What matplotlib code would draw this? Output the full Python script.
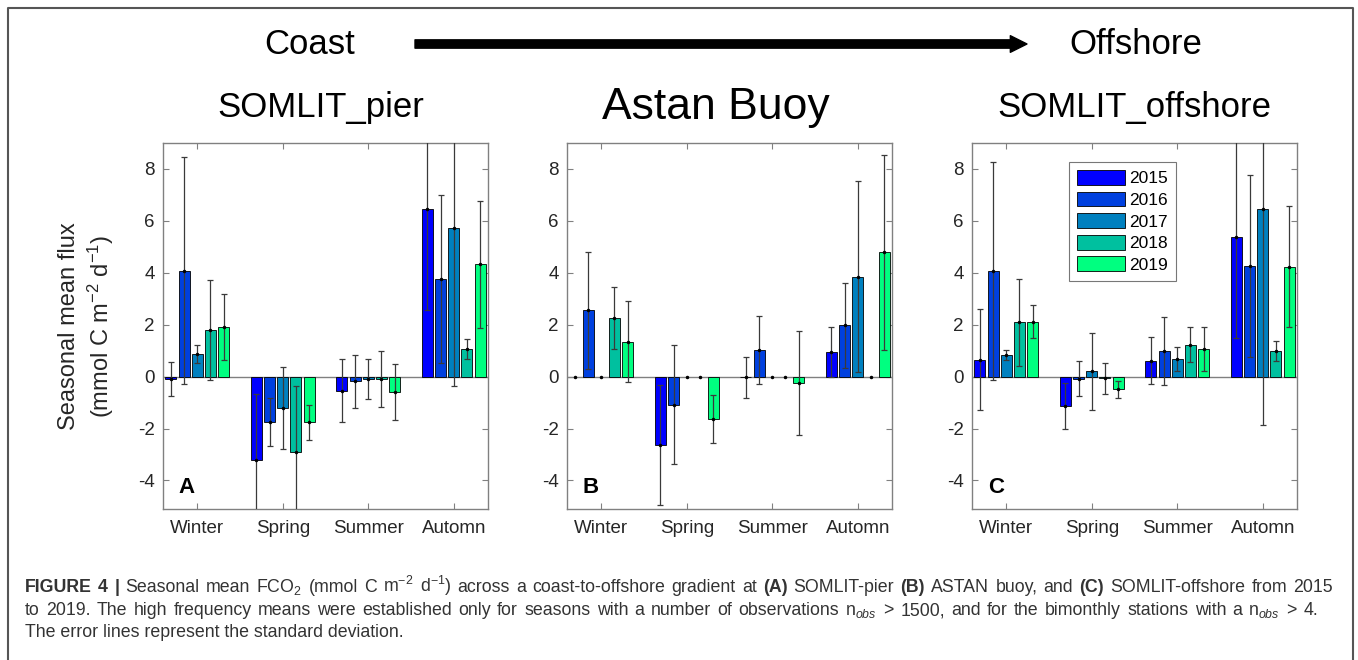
import numpy as np
import matplotlib
matplotlib.use("Agg")
import matplotlib.pyplot as plt
from matplotlib.patches import FancyArrowPatch, Rectangle
from matplotlib.lines import Line2D

plt.rcParams["font.family"] = ["Liberation Sans", "DejaVu Sans"]
plt.rcParams["mathtext.fontset"] = "custom"
plt.rcParams["mathtext.rm"] = "Liberation Sans"
plt.rcParams["mathtext.it"] = "Liberation Sans:italic"
plt.rcParams["mathtext.bf"] = "Liberation Sans:bold"
plt.rcParams["axes.unicode_minus"] = False

seasons = ["Winter", "Spring", "Summer", "Automn"]
years = ["2015", "2016", "2017", "2018", "2019"]
titles = ["SOMLIT_pier", "Astan Buoy", "SOMLIT_offshore"]
letters = ["A", "B", "C"]

# rows = seasons, columns = years (nan = no data, drawn as a dot at 0)
pier_mean = [[-0.10, 4.08, 0.87, 1.81, 1.90],
             [-3.21, -1.76, -1.22, -2.91, -1.76],
             [-0.54, -0.17, -0.10, -0.10, -0.60],
             [6.46, 3.76, 5.73, 1.06, 4.33]]
pier_std = [[0.65, 4.37, 0.34, 1.93, 1.27],
            [2.54, 0.92, 1.58, 2.53, 0.68],
            [1.22, 1.02, 0.77, 1.08, 1.07],
            [3.90, 3.24, 6.09, 0.37, 2.44]]

buoy_mean = [[np.nan, 2.56, np.nan, 2.27, 1.35],
             [-2.64, -1.08, np.nan, np.nan, -1.62],
             [-0.03, 1.03, np.nan, np.nan, -0.26],
             [0.96, 1.97, 3.85, np.nan, 4.79]]
buoy_std = [[0.0, 2.26, 0.0, 1.20, 1.57],
            [2.31, 2.28, 0.0, 0.0, 0.93],
            [0.79, 1.30, 0.0, 0.0, 2.00],
            [0.96, 1.64, 3.67, 0.0, 3.75]]

offshore_mean = [[0.65, 4.08, 0.83, 2.09, 2.12],
                 [-1.14, -0.08, 0.20, -0.06, -0.49],
                 [0.62, 0.97, 0.69, 1.23, 1.06],
                 [5.36, 4.26, 6.47, 0.99, 4.24]]
offshore_std = [[1.94, 4.20, 0.19, 1.67, 0.62],
                [0.89, 0.68, 1.47, 0.60, 0.34],
                [0.92, 1.31, 0.46, 0.67, 0.86],
                [3.89, 3.49, 8.33, 0.37, 2.33]]

means = [pier_mean, buoy_mean, offshore_mean]
stds = [pier_std, buoy_std, offshore_std]

colors = [plt.cm.winter(v) for v in np.linspace(0, 1, 5)]

W, H = 1358, 660
fig = plt.figure(figsize=(W / 100, H / 100), dpi=100)

lefts = [163, 567, 972]
ax_top, ax_bot, ax_w = 143, 509, 325
spacing = 0.1538
barw = 0.128
x = np.arange(1, len(seasons) + 1)

for k in range(3):
    ax = fig.add_axes([lefts[k] / W, (H - ax_bot) / H, ax_w / W, (ax_bot - ax_top) / H])
    m = np.array(means[k], dtype=float)
    s = np.array(stds[k], dtype=float)
    ax.axhline(0, color="#808080", lw=1.0, zorder=1)
    for j in range(len(years)):
        xj = x + (j - 2) * spacing
        ax.bar(xj, m[:, j], width=barw, color=colors[j], edgecolor="black",
               linewidth=0.6, zorder=2, label=years[j])
        ok = ~np.isnan(m[:, j])
        ax.errorbar(xj[ok], m[ok, j], yerr=s[ok, j], fmt=".", color="black",
                    ecolor="#3a3a3a", elinewidth=0.9, capsize=2.5, capthick=0.9,
                    markersize=3, zorder=3)
        if (~ok).any():
            ax.plot(xj[~ok], np.zeros((~ok).sum()), ".", color="black",
                    markersize=3, zorder=3)

    ax.set_xlim(0.6, 4.4)
    ax.set_ylim(-5.1, 9)
    ax.set_yticks([-4, -2, 0, 2, 4, 6, 8])
    ax.set_xticks(x)
    ax.set_xticklabels(seasons)
    ax.tick_params(direction="in", length=4, width=0.8, color="#808080",
                   labelcolor="#262626", labelsize=13.5, top=True, right=True)
    ax.tick_params(axis="x", pad=8)
    ax.tick_params(axis="y", pad=6)
    for sp in ax.spines.values():
        sp.set_color("#808080")
        sp.set_linewidth(1.0)
    ax.text(0.049, 0.03, letters[k], transform=ax.transAxes, fontsize=16,
            fontweight="bold", ha="left", va="bottom")

    if k == 2:
        handles = [Rectangle((0, 0), 1, 1, facecolor=c, edgecolor="black", lw=0.6)
                   for c in colors]
        leg = ax.legend(handles, years, loc="upper left",
                        bbox_to_anchor=(0.298, 0.948), fontsize=12.5,
                        frameon=True, fancybox=False, edgecolor="#555555",
                        handlelength=2.8, handleheight=0.95, handletextpad=0.25,
                        labelspacing=0.3, borderpad=0.45, borderaxespad=0)
        leg.get_frame().set_linewidth(0.8)

# station titles
fig.text(321 / W, 1 - 107 / H, titles[0], fontsize=25, ha="center", va="center")
fig.text(716 / W, 1 - 107 / H, titles[1], fontsize=32, ha="center", va="center")
fig.text(1134 / W, 1 - 107 / H, titles[2], fontsize=25, ha="center", va="center")

# coast -> offshore arrow
fig.text(310 / W, 1 - 44 / H, "Coast", fontsize=25, ha="center", va="center")
fig.text(1136 / W, 1 - 44 / H, "Offshore", fontsize=25, ha="center", va="center")
arrow = FancyArrowPatch((415 / W, 1 - 44 / H), (1027 / W, 1 - 44 / H),
                        transform=fig.transFigure, color="black",
                        arrowstyle="simple,head_width=1.2,head_length=1.2,tail_width=0.6",
                        mutation_scale=10, shrinkA=0, shrinkB=0)
fig.add_artist(arrow)

# y label
fig.text(87 / W, 1 - 326 / H, "Seasonal mean flux\n(mmol C m$^{-2}$ d$^{-1}$)",
         fontsize=17, rotation=90, ha="center", va="center", multialignment="center",
         linespacing=1.25, color="#262626")

# outer frame (open at the bottom)
fig.add_artist(Line2D([8 / W, 8 / W, 1353 / W, 1353 / W], [0, 1 - 8 / H, 1 - 8 / H, 0],
                      transform=fig.transFigure, color="#555555", lw=1.5))

# caption, justified like the journal layout
cap_color = "#333333"
cap_size = 12.8
cap1 = (r"FIGURE 4 | Seasonal mean FCO$_2$ (mmol C m$^{-2}$ d$^{-1}$) across a "
        r"coast-to-offshore gradient at (A) SOMLIT-pier (B) ASTAN buoy, "
        r"and (C) SOMLIT-offshore from 2015")
cap2 = (r"to 2019. The high frequency means were established only for seasons with a number "
        r"of observations n$_{\mathit{obs}}$ > 1500, and for the bimonthly stations with a "
        r"n$_{\mathit{obs}}$ > 4.")
cap3 = "The error lines represent the standard deviation."
bold_words = {"FIGURE", "4", "|", "(A)", "(B)", "(C)"}

renderer = fig.canvas.get_renderer()


def caption_line(text, yb, x0, x1, bold=()):
    words = text.split(" ")
    objs = []
    for w in words:
        objs.append(fig.text(0, 1 - yb / H, w, fontsize=cap_size, va="baseline",
                             ha="left", color=cap_color,
                             fontweight="bold" if w in bold else "normal"))
    widths = [o.get_window_extent(renderer=renderer).width for o in objs]
    gap = (x1 - x0 - sum(widths)) / (len(words) - 1)
    xp = x0
    for o, w in zip(objs, widths):
        o.set_x(xp / W)
        xp += w + gap


caption_line(cap1, 592, 25, 1333, bold_words)
caption_line(cap2, 615, 25, 1318)
fig.text(25 / W, 1 - 637 / H, cap3, fontsize=cap_size, ha="left", va="baseline",
         color=cap_color)

fig.savefig("out.png", dpi=100)
